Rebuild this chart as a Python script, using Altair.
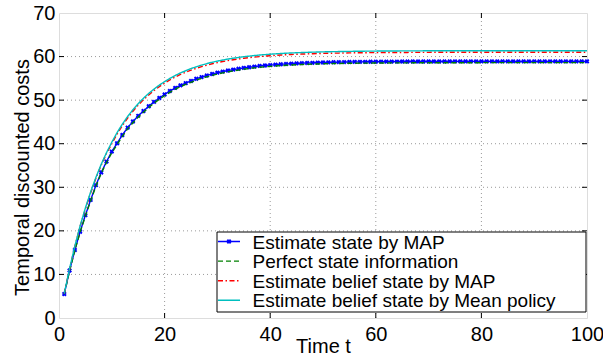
import altair as alt
import pandas as pd

# ---------------- data ----------------
t = list(range(1, 101))
names = ["Estimate state by MAP", "Perfect state information",
         "Estimate belief state by MAP", "Estimate belief state by Mean policy"]

blue = [5.5, 10.9, 15.6, 19.8, 23.6, 27.1, 30.5, 33.4, 35.9, 38.2,
        40.1, 42.0, 43.7, 45.1, 46.4, 47.5, 48.6, 49.6, 50.5, 51.3,
        52.1, 52.8, 53.4, 53.9, 54.4, 54.9, 55.3, 55.65, 56.0, 56.3,
        56.55, 56.8, 57.0, 57.2, 57.4, 57.55, 57.7, 57.85, 57.95, 58.05,
        58.15, 58.23, 58.3, 58.37, 58.43, 58.48, 58.53, 58.57, 58.61, 58.64,
        58.67, 58.7, 58.72, 58.74, 58.76, 58.78, 58.79, 58.8, 58.81, 58.82,
        58.83, 58.84, 58.85, 58.85, 58.86, 58.86, 58.87, 58.87, 58.87, 58.88,
        58.88, 58.88, 58.88, 58.89, 58.89, 58.89, 58.89, 58.89, 58.89, 58.9,
        58.9, 58.9, 58.9, 58.9, 58.9, 58.9, 58.9, 58.9, 58.9, 58.9,
        58.9, 58.9, 58.9, 58.9, 58.9, 58.9, 58.9, 58.9, 58.9, 58.9]

green = [5.5, 10.8, 15.5, 19.7, 23.4, 26.9, 30.3, 33.2, 35.7, 37.9,
         39.8, 41.7, 43.4, 44.8, 46.1, 47.2, 48.3, 49.3, 50.2, 51.0,
         51.8, 52.5, 53.1, 53.6, 54.1, 54.6, 55.0, 55.35, 55.7, 56.0,
         56.25, 56.5, 56.7, 56.9, 57.1, 57.25, 57.4, 57.55, 57.65, 57.75,
         57.85, 57.93, 58.0, 58.07, 58.13, 58.18, 58.23, 58.27, 58.31, 58.34,
         58.37, 58.4, 58.42, 58.44, 58.46, 58.48, 58.49, 58.5, 58.51, 58.52,
         58.53, 58.54, 58.55, 58.55, 58.56, 58.56, 58.57, 58.57, 58.57, 58.58,
         58.58, 58.58, 58.58, 58.59, 58.59, 58.59, 58.59, 58.59, 58.59, 58.6,
         58.6, 58.6, 58.6, 58.6, 58.6, 58.6, 58.6, 58.6, 58.6, 58.6,
         58.6, 58.6, 58.6, 58.6, 58.6, 58.6, 58.6, 58.6, 58.6, 58.6]

red = [5.6, 11.25, 16.4, 21.05, 25.05, 28.75, 32.1, 35.1, 37.75, 40.0,
       42.2, 44.15, 45.9, 47.45, 48.85, 50.1, 51.2, 52.2, 53.1, 53.9,
       54.65, 55.3, 55.9, 56.4, 56.9, 57.3, 57.7, 58.03, 58.34, 58.61,
       58.86, 59.08, 59.28, 59.45, 59.61, 59.75, 59.88, 60.0, 60.1, 60.19,
       60.28, 60.35, 60.42, 60.48, 60.53, 60.58, 60.62, 60.66, 60.7, 60.73,
       60.76, 60.78, 60.8, 60.82, 60.84, 60.86, 60.87, 60.89, 60.9, 60.91,
       60.92, 60.93, 60.94, 60.94, 60.95, 60.95, 60.96, 60.96, 60.97, 60.97,
       60.98, 60.98, 60.98, 60.98, 60.98, 60.99, 60.99, 60.99, 60.99, 60.99,
       60.99, 60.99, 60.99, 60.99, 60.99, 61.0, 61.0, 61.0, 61.0, 61.0,
       61.0, 61.0, 61.0, 61.0, 61.0, 61.0, 61.0, 61.0, 61.0, 61.0]

cyan = [5.6, 11.35, 16.5, 21.15, 25.25, 28.95, 32.3, 35.3, 37.95, 40.35,
        42.55, 44.5, 46.25, 47.8, 49.2, 50.45, 51.55, 52.55, 53.45, 54.25,
        55.0, 55.65, 56.25, 56.75, 57.25, 57.65, 58.05, 58.38, 58.69, 58.96,
        59.21, 59.43, 59.63, 59.8, 59.96, 60.1, 60.23, 60.35, 60.45, 60.54,
        60.63, 60.7, 60.77, 60.83, 60.88, 60.93, 60.97, 61.01, 61.05, 61.08,
        61.11, 61.13, 61.15, 61.17, 61.19, 61.21, 61.22, 61.24, 61.25, 61.26,
        61.27, 61.28, 61.29, 61.29, 61.3, 61.3, 61.31, 61.31, 61.32, 61.32,
        61.33, 61.33, 61.33, 61.33, 61.33, 61.34, 61.34, 61.34, 61.34, 61.34,
        61.34, 61.34, 61.34, 61.34, 61.34, 61.35, 61.35, 61.35, 61.35, 61.35,
        61.35, 61.35, 61.35, 61.35, 61.35, 61.35, 61.35, 61.35, 61.35, 61.35]

x_ticks = [0, 20, 40, 60, 80, 100]
y_ticks = [0, 10, 20, 30, 40, 50, 60, 70]

# ---------------- styles ----------------
FONT = "Liberation Sans"
colors = ["#0000ff", "#008000", "#ff0000", "#00bfbf"]
dashes = [[1, 0], [5, 3], [5, 2.5, 1.5, 2.5], [1, 0]]
W, H = 528, 305

xs = alt.Scale(domain=[0, 100], nice=False, zero=False)
ys = alt.Scale(domain=[0, 70], nice=False, zero=False)

x_axis = alt.Axis(values=x_ticks, grid=False, ticks=False, format="d",
                  labelFontSize=20, labelFont=FONT, labelColor="black",
                  labelPadding=6, labelFlush=False, domain=False,
                  title="Time t", titleFont=FONT, titleFontSize=20,
                  titleFontWeight="normal", titleColor="black",
                  titleBaseline="alphabetic", titleY=34)
y_axis = alt.Axis(values=y_ticks, grid=False, ticks=False, format="d",
                  labelFontSize=20, labelFont=FONT, labelColor="black",
                  labelPadding=4, labelFlush=False, domain=False,
                  title="Temporal discounted costs", titleFont=FONT,
                  titleFontSize=20, titleFontWeight="normal",
                  titleColor="black", titleBaseline="alphabetic",
                  titleX=-31, titleY=164, titleAngle=270)

X = lambda f: alt.X(f, scale=xs, axis=x_axis)
Y = lambda f: alt.Y(f, scale=ys, axis=y_axis)

layers = []

# grid (interior ticks only)
gx = pd.DataFrame({"v": x_ticks[1:-1]})
gy = pd.DataFrame({"v": y_ticks[1:-1]})
layers.append(alt.Chart(gx).mark_rule(color="#9a9a9a", strokeDash=[1, 3], strokeWidth=1)
              .encode(x=X("v:Q"), y=alt.value(0), y2=alt.value(H)))
layers.append(alt.Chart(gy).mark_rule(color="#9a9a9a", strokeDash=[1, 3], strokeWidth=1)
              .encode(y=Y("v:Q"), x=alt.value(0), x2=alt.value(W)))

# series
series_vals = [blue, green, red, cyan]
for i, (name, vals) in enumerate(zip(names, series_vals)):
    df = pd.DataFrame({"t": t, "v": vals, "series": name})
    layers.append(alt.Chart(df).mark_line(color=colors[i], strokeDash=dashes[i],
                                          strokeWidth=1.4)
                  .encode(x=X("t:Q"), y=Y("v:Q")))
    if i == 0:
        layers.append(alt.Chart(df).mark_point(shape="cross", angle=45, filled=True,
                                               size=24, color=colors[0], opacity=1)
                      .encode(x=X("t:Q"), y=Y("v:Q")))

# inward ticks on all four sides
tx = pd.DataFrame({"v": x_ticks[1:-1]})
ty = pd.DataFrame({"v": y_ticks[1:-1]})
layers.append(alt.Chart(tx).mark_rule(color="black", strokeWidth=1)
              .encode(x=X("v:Q"), y=alt.value(H), y2=alt.value(H - 5)))
layers.append(alt.Chart(tx).mark_rule(color="black", strokeWidth=1)
              .encode(x=X("v:Q"), y=alt.value(0), y2=alt.value(5)))
layers.append(alt.Chart(ty).mark_rule(color="black", strokeWidth=1)
              .encode(y=Y("v:Q"), x=alt.value(0), x2=alt.value(5)))
layers.append(alt.Chart(ty).mark_rule(color="black", strokeWidth=1)
              .encode(y=Y("v:Q"), x=alt.value(W), x2=alt.value(W - 5)))

# legend (manual)
box = pd.DataFrame({"k": [0]})
layers.append(alt.Chart(box).mark_rect(fill="white", stroke="black", strokeWidth=1)
              .encode(x=alt.value(158), x2=alt.value(527),
                      y=alt.value(219), y2=alt.value(299)))
row_y0, row_dy = 228.5, 19.6
for i, name in enumerate(names):
    ld = pd.DataFrame({"series": [name]})
    yy = row_y0 + i * row_dy
    layers.append(alt.Chart(ld).mark_rule(color=colors[i], strokeDash=dashes[i],
                                          strokeWidth=1.4)
                  .encode(x=alt.value(159), x2=alt.value(181), y=alt.value(yy)))
    if i == 0:
        layers.append(alt.Chart(ld).mark_point(shape="cross", angle=45, filled=True,
                                               size=24, color=colors[0], opacity=1)
                      .encode(x=alt.value(170), y=alt.value(yy)))
    layers.append(alt.Chart(ld).mark_text(align="left", baseline="middle", font=FONT,
                                          fontSize=19, color="black")
                  .encode(x=alt.value(193.5), y=alt.value(yy + 1), text="series:N"))

chart = (alt.layer(*layers)
         .properties(width=W, height=H,
                     autosize=alt.AutoSizeParams(type="none"),
                     padding={"left": 59, "top": 13, "right": 16, "bottom": 40})
         .configure_view(stroke="black", strokeWidth=1.2)
         .configure(background="white"))

chart.save("out.html", embed_options={"renderer": "svg", "actions": False})
